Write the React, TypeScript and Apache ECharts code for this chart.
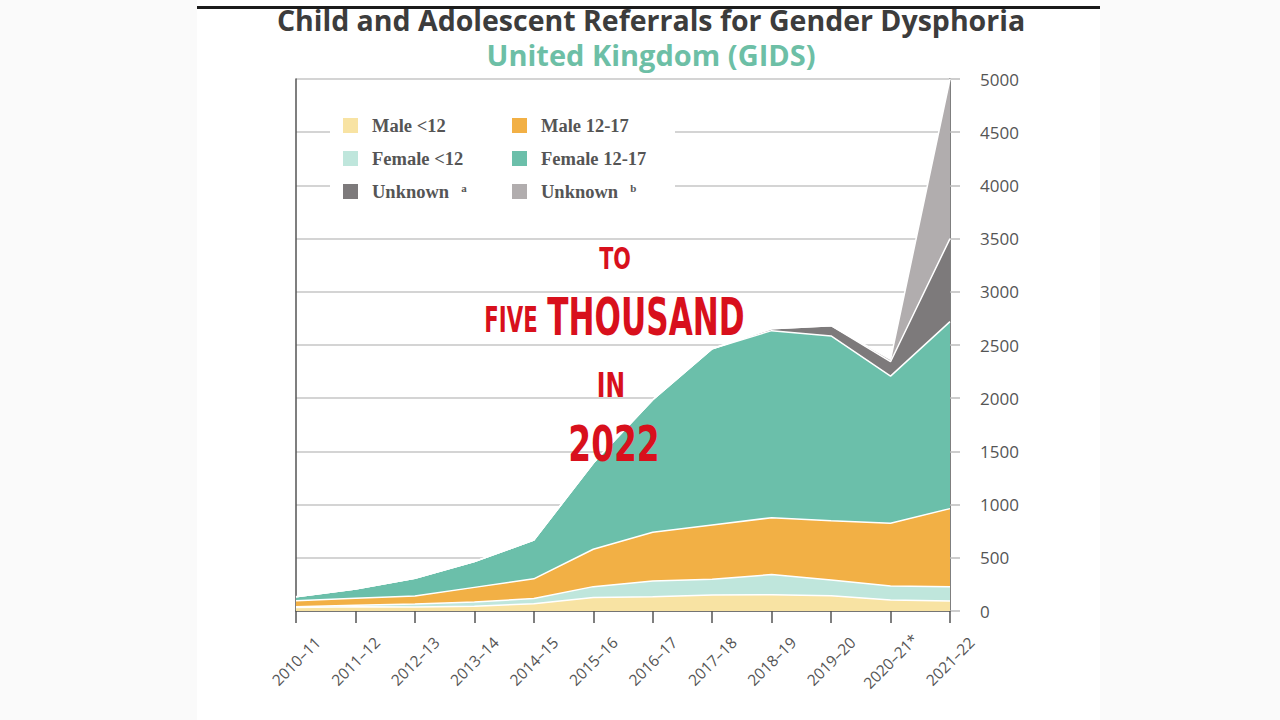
import React, { useEffect, useRef } from 'react';
import * as echarts from 'echarts';

const categories = ['2010–11', '2011–12', '2012–13', '2013–14', '2014–15', '2015–16', '2016–17', '2017–18', '2018–19', '2019–20', '2020–21*', '2021–22'];
const maleUnder12 = [32, 40, 38, 45, 68, 128, 135, 150, 153, 144, 103, 94];
const femaleUnder12 = [8, 13, 28, 40, 49, 101, 147, 148, 189, 147, 132, 135];
const male12to17 = [57, 66, 75, 137, 185, 351, 458, 510, 535, 558, 589, 733];
const female12to17 = [37, 88, 166, 242, 366, 810, 1245, 1657, 1758, 1736, 1383, 1758];
const unknownA = [0, 0, 0, 0, 0, 0, 0, 0, 18, 97, 136, 780];
const unknownB = [0, 0, 0, 0, 0, 0, 0, 0, 0, 0, 22, 1500];

const seriesNames = ['Male <12', 'Female <12', 'Male 12-17', 'Female 12-17', 'Unknown a', 'Unknown b'];
const seriesColors = ['#f8e3a3', '#bfe6dc', '#f2b045', '#6bbfaa', '#7d7a7b', '#b1adae'];
const seriesData = [maleUnder12, femaleUnder12, male12to17, female12to17, unknownA, unknownB];

const legendCol1 = ['Male <12', 'Female <12', 'Unknown a'];
const legendCol2 = ['Male 12-17', 'Female 12-17', 'Unknown b'];

const yMin = 0;
const yMax = 5000;
const yInterval = 500;

const boldSans = '"DejaVu Sans", sans-serif';

export default function App() {
  const ref = useRef<HTMLDivElement>(null);
  useEffect(() => {
    const chart = echarts.init(ref.current as HTMLDivElement, null, { renderer: 'svg' });

    const legendFormatter = (name: string) => {
      if (name === 'Unknown a') return '{t|Unknown}{s|a}';
      if (name === 'Unknown b') return '{t|Unknown}{s|b}';
      return `{t|${name}}`;
    };
    const legendRich = {
      t: {
        fontFamily: '"Liberation Serif", "Times New Roman", serif',
        fontWeight: 'bold',
        fontSize: 18.5,
        color: '#555555',
        lineHeight: 20,
        padding: [0, 0, 0, 9],
      },
      s: {
        fontFamily: '"Liberation Serif", "Times New Roman", serif',
        fontWeight: 'bold',
        fontSize: 11,
        color: '#555555',
        lineHeight: 20,
        padding: [0, 0, 8, 12],
      },
    };
    const mkLegend = (data: string[], left: number) => ({
      orient: 'vertical',
      left,
      top: 116,
      padding: 0,
      itemGap: 14,
      itemWidth: 15,
      itemHeight: 15,
      icon: 'rect',
      selectedMode: false,
      data,
      formatter: legendFormatter,
      itemStyle: { borderWidth: 0 },
      textStyle: { rich: legendRich },
      z: 5,
    });

    const redText = (text: string, x: number, y: number, size: number, sx: number) => ({
      type: 'text',
      x,
      y,
      scaleX: sx,
      z: 20,
      style: {
        text,
        fill: '#d8101c',
        fontFamily: boldSans,
        fontWeight: 'bold',
        fontSize: size,
        align: 'center',
        verticalAlign: 'middle',
      },
    });

    chart.setOption({
      animation: false,
      backgroundColor: '#fafafa',
      grid: { left: 296, right: 330, top: 79, bottom: 109, containLabel: false },
      legend: [mkLegend(legendCol1, 343), mkLegend(legendCol2, 512)],
      xAxis: {
        type: 'category',
        data: categories,
        boundaryGap: false,
        axisLine: { lineStyle: { color: '#555555', width: 1.5 } },
        axisTick: { show: true, length: 12, interval: 0, lineStyle: { color: '#555555', width: 1.5 } },
        axisLabel: {
          interval: 0,
          rotate: 45,
          align: 'center',
          verticalAlign: 'middle',
          margin: 50,
          color: '#555555',
          fontSize: 15.5,
          fontFamily: '"Open Sans", sans-serif',
        },
        splitLine: { show: false },
      },
      yAxis: [
        {
          type: 'value',
          position: 'right',
          min: yMin,
          max: yMax,
          interval: yInterval,
          axisLine: { show: true, lineStyle: { color: '#555555', width: 1.5 } },
          axisTick: { show: true, length: 10, lineStyle: { color: '#bdbdbd', width: 1.5 } },
          axisLabel: {
            margin: 30,
            align: 'left',
            color: '#555555',
            fontSize: 17,
            fontFamily: '"Open Sans", sans-serif',
            formatter: (v: number) => String(v),
          },
          splitLine: { show: true, lineStyle: { color: '#c6c6c6', width: 1.5 } },
        },
        {
          type: 'value',
          position: 'left',
          min: yMin,
          max: yMax,
          interval: yInterval,
          axisLine: { show: true, lineStyle: { color: '#555555', width: 1.5 } },
          axisTick: { show: false },
          axisLabel: { show: false },
          splitLine: { show: false },
        },
      ],
      series: seriesNames.map((name, i) => ({
        name,
        type: 'line',
        stack: 'total',
        data: seriesData[i],
        symbol: 'none',
        showSymbol: false,
        lineStyle: { color: '#ffffff', width: 1.5 },
        itemStyle: { color: seriesColors[i] },
        areaStyle: { color: seriesColors[i], opacity: 1 },
        emphasis: { disabled: true },
        z: 2,
      })),
      graphic: [
        { type: 'rect', z: -10, shape: { x: 197, y: 0, width: 903, height: 720 }, style: { fill: '#ffffff' } },
        { type: 'rect', z: 10, shape: { x: 197, y: 6, width: 903, height: 3 }, style: { fill: '#1b1b1b' } },
        { type: 'rect', z: 1, shape: { x: 330, y: 106, width: 345, height: 106 }, style: { fill: '#ffffff' } },
        {
          type: 'text',
          x: 651,
          y: 20,
          z: 10,
          style: {
            text: 'Child and Adolescent Referrals for Gender Dysphoria',
            fill: '#3c3c3c',
            fontFamily: '"Open Sans", sans-serif',
            fontWeight: 'bold',
            fontSize: 28.5,
            lineHeight: 30,
            align: 'center',
            verticalAlign: 'middle',
          },
        },
        {
          type: 'text',
          x: 651,
          y: 54,
          z: 10,
          style: {
            text: 'United Kingdom (GIDS)',
            fill: '#6dbfa6',
            fontFamily: '"Open Sans", sans-serif',
            fontWeight: 'bold',
            fontSize: 29,
            lineHeight: 30,
            align: 'center',
            verticalAlign: 'middle',
          },
        },
        redText('TO', 615, 259, 30, 0.69),
        redText('FIVE', 511, 320, 36, 0.59),
        redText('THOUSAND', 646, 317, 51, 0.61),
        redText('IN', 611, 385, 33, 0.71),
        redText('2022', 614, 444, 49, 0.67),
      ],
    });
    return () => chart.dispose();
  }, []);
  return <div ref={ref} style={{ position: 'absolute', left: 0, top: 0, width: 1280, height: 720 }} />;
}
